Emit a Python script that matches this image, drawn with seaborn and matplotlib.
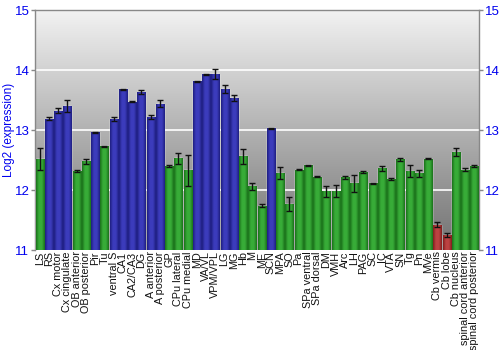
import numpy as np
import pandas as pd
import matplotlib
matplotlib.use("Agg")
import matplotlib.pyplot as plt
import seaborn as sns
from matplotlib.colors import LinearSegmentedColormap

regions = ["LS", "RS", "Cx motor", "Cx cingulate", "OB anterior", "OB posterior", "Pir", "Tu",
           "ventral S", "CA1", "CA2/CA3", "DG", "A anterior", "A posterior", "GP", "CPu lateral",
           "CPu medial", "MD", "VA/VL", "VPM/VPL", "LG", "MG", "Hb", "M", "ME", "SCN", "MPA", "SO",
           "Pa", "SPa ventral", "SPa dorsal", "DM", "VMH", "Arc", "LH", "PAG", "SC", "IC", "VTA",
           "SN", "Tg", "Pn", "MVe", "Cb vermis", "Cb lobe", "Cb nucleus", "spinal cord anterior",
           "spinal cord posterior"]
expression = [12.52, 13.19, 13.32, 13.40, 12.32, 12.48, 12.96, 12.73,
              13.18, 13.68, 13.47, 13.63, 13.22, 13.44, 12.40, 12.53,
              12.33, 13.81, 13.93, 13.93, 13.68, 13.54, 12.56, 12.06, 11.74, 13.03, 12.28, 11.77,
              12.34, 12.41, 12.22, 11.98, 11.98, 12.21, 12.11, 12.30, 12.11, 12.36, 12.18,
              12.51, 12.32, 12.28, 12.52, 11.42, 11.25, 12.63, 12.34, 12.40]
errors = [0.18, 0.02, 0.04, 0.10, 0.02, 0.04, 0.01, 0.01,
          0.03, 0.01, 0.01, 0.03, 0.03, 0.06, 0.02, 0.09,
          0.26, 0.01, 0.01, 0.08, 0.07, 0.05, 0.12, 0.06, 0.03, 0.01, 0.10, 0.12,
          0.01, 0.01, 0.01, 0.09, 0.10, 0.02, 0.14, 0.02, 0.01, 0.04, 0.02,
          0.03, 0.10, 0.06, 0.01, 0.04, 0.03, 0.07, 0.03, 0.01]
groups = ["g", "b", "b", "b", "g", "g", "b", "g",
          "b", "b", "b", "b", "b", "b", "g", "g",
          "g", "b", "b", "b", "b", "b", "g", "g", "g", "b", "g", "g",
          "g", "g", "g", "g", "g", "g", "g", "g", "g", "g", "g",
          "g", "g", "g", "g", "r", "r", "g", "g", "g"]

df = pd.DataFrame({"region": regions, "expr": expression, "err": errors, "group": groups})

mid = {"b": "#3c3cbc", "g": "#38ac38", "r": "#bc4242"}
dark = {"b": "#1e1e80", "g": "#1a701a", "r": "#801c1c"}

sns.set_style("white")
plt.rcParams["font.family"] = ["Liberation Sans", "DejaVu Sans"]
fig = plt.figure(figsize=(5, 3.5), dpi=100)
ax = fig.add_axes([0.07, 0.2857, 0.888, 0.6857])

# background gradient
bg = LinearSegmentedColormap.from_list("bg", ["#727272", "#f2f2f2"])
grad = np.linspace(0, 1, 256).reshape(-1, 1)
ax.imshow(grad, cmap=bg, aspect="auto", extent=[0, 1, 0, 1], origin="lower",
          transform=ax.transAxes, zorder=0)

sns.barplot(data=df, x="region", y="expr", hue="group", palette=mid, dodge=False,
            width=0.88, legend=False, ax=ax, zorder=3, errorbar=None, saturation=1)

ax.set_ylim(11, 15)
for y in (12, 13, 14):
    ax.axhline(y, color="white", lw=1.2, zorder=1)

# gradient shading inside each bar
for patch in ax.patches:
    x0 = patch.get_x(); w = patch.get_width(); h = patch.get_height()
    if w == 0 or np.isnan(h):
        continue
    idx = int(round(x0 + w / 2))
    if idx < 0 or idx >= len(groups):
        continue
    g = groups[idx]
    cm = LinearSegmentedColormap.from_list("c", [dark[g], mid[g], mid[g], dark[g]])
    img = np.linspace(0, 1, 64).reshape(1, -1)
    im = ax.imshow(img, cmap=cm, aspect="auto", extent=[x0, x0 + w, 11, h],
                   zorder=4, interpolation="bilinear")
    im.set_clip_path(patch)

ax.errorbar(np.arange(len(regions)), expression, yerr=errors, fmt="none",
            ecolor="#111111", elinewidth=1, capsize=2, capthick=1, zorder=6)

ax.set_xlim(-0.5, len(regions) - 0.5)
ax.set_xlabel("")
ax.set_ylabel("Log2 (expression)", color="#0000ee", fontsize=8.5)
ax.yaxis.set_label_coords(-0.045, 0.5)
ax.set_yticks([11, 12, 13, 14, 15])
ax.tick_params(axis="y", colors="#888888", labelcolor="#0000ee", labelsize=9.5,
               length=3, width=1, left=True, right=True, labelright=True, pad=1)
ax.tick_params(axis="x", labelsize=7.8, length=0, pad=1, labelcolor="#111111")
plt.setp(ax.get_xticklabels(), rotation=90)
for s in ax.spines.values():
    s.set_color("#888888")
    s.set_linewidth(1)
ax.spines["bottom"].set_visible(False)

fig.savefig("out.png", dpi=100)
